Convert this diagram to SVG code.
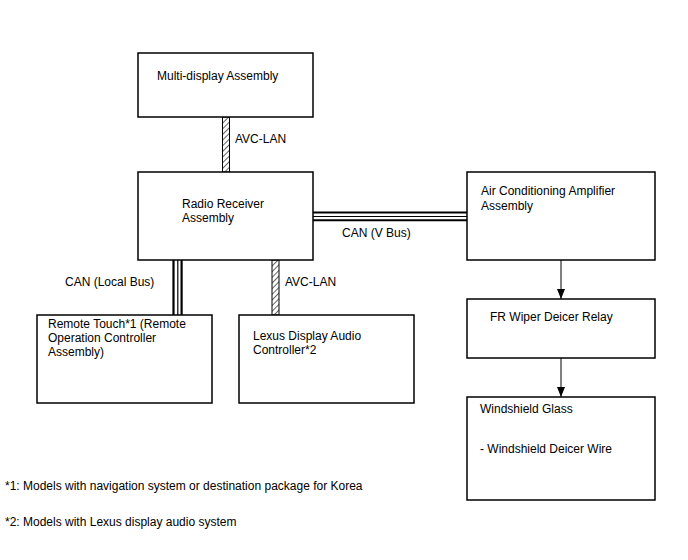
<svg xmlns="http://www.w3.org/2000/svg" width="688" height="560" viewBox="0 0 688 560">
<defs>
<pattern id="hatch" patternUnits="userSpaceOnUse" width="4" height="4" patternTransform="rotate(45)">
<rect width="4" height="4" fill="#fff"/>
<line x1="0" y1="0" x2="0" y2="4" stroke="#000" stroke-width="1.2"/>
</pattern>
<marker id="arr" markerWidth="10" markerHeight="8" refX="10" refY="4" orient="auto" markerUnits="userSpaceOnUse" viewBox="0 0 10 8">
<path d="M0,0 L10,4 L0,8 Z" fill="#000"/>
</marker>
</defs>
<style>
.box{fill:#fff;stroke:#000;stroke-width:1.5}
text{font-family:"Liberation Sans",Arial,sans-serif;font-size:12px;fill:#000}
.hatch{fill:url(#hatch);stroke:#000;stroke-width:1}
.bus{stroke:#000;fill:none}
.arrow{stroke:#000;stroke-width:1;fill:none;marker-end:url(#arr)}
</style>
<rect width="688" height="560" fill="#fff"/>
<g id="connectors">
<rect class="hatch" x="222.5" y="117" width="7" height="55"/>
<text x="235" y="143">AVC-LAN</text>
<line class="bus" x1="313" y1="212.5" x2="467" y2="212.5" stroke-width="2"/>
<line class="bus" x1="313" y1="216.5" x2="467" y2="216.5" stroke-width="1.2"/>
<line class="bus" x1="313" y1="220.3" x2="467" y2="220.3" stroke-width="2"/>
<text x="342" y="237">CAN (V Bus)</text>
<line class="bus" x1="173.5" y1="260" x2="173.5" y2="315" stroke-width="2.2"/>
<line class="bus" x1="177.8" y1="260" x2="177.8" y2="315" stroke-width="1.2"/>
<line class="bus" x1="181.6" y1="260" x2="181.6" y2="315" stroke-width="2.2"/>
<text x="65" y="286">CAN (Local Bus)</text>
<rect class="hatch" x="272" y="260" width="7" height="55"/>
<text x="285" y="286">AVC-LAN</text>
<line class="arrow" x1="561" y1="260" x2="561" y2="299"/>
<line class="arrow" x1="561" y1="358" x2="561" y2="397"/>
</g>
<g id="multi-display">
<rect class="box" x="138" y="53" width="175" height="64"/>
<text x="157" y="80">Multi-display Assembly</text>
</g>
<g id="radio-receiver">
<rect class="box" x="138" y="172" width="175" height="88"/>
<text x="182" y="208">Radio Receiver</text>
<text x="182" y="222">Assembly</text>
</g>
<g id="air-conditioning">
<rect class="box" x="467" y="172" width="188" height="88"/>
<text x="481" y="195">Air Conditioning Amplifier</text>
<text x="481" y="210">Assembly</text>
</g>
<g id="fr-wiper">
<rect class="box" x="467" y="299" width="188" height="59"/>
<text x="490" y="321">FR Wiper Deicer Relay</text>
</g>
<g id="windshield">
<rect class="box" x="467" y="397" width="188" height="103"/>
<text x="480" y="413">Windshield Glass</text>
<text x="480" y="453">- Windshield Deicer Wire</text>
</g>
<g id="remote-touch">
<rect class="box" x="37" y="315" width="175" height="88"/>
<text x="48" y="328">Remote Touch*1 (Remote</text>
<text x="48" y="342">Operation Controller</text>
<text x="48" y="356">Assembly)</text>
</g>
<g id="lexus-display">
<rect class="box" x="239" y="315" width="175" height="88"/>
<text x="253" y="340">Lexus Display Audio</text>
<text x="253" y="354">Controller*2</text>
</g>
<g id="footnotes">
<text x="5" y="490">*1: Models with navigation system or destination package for Korea</text>
<text x="5" y="526">*2: Models with Lexus display audio system</text>
</g>
</svg>
